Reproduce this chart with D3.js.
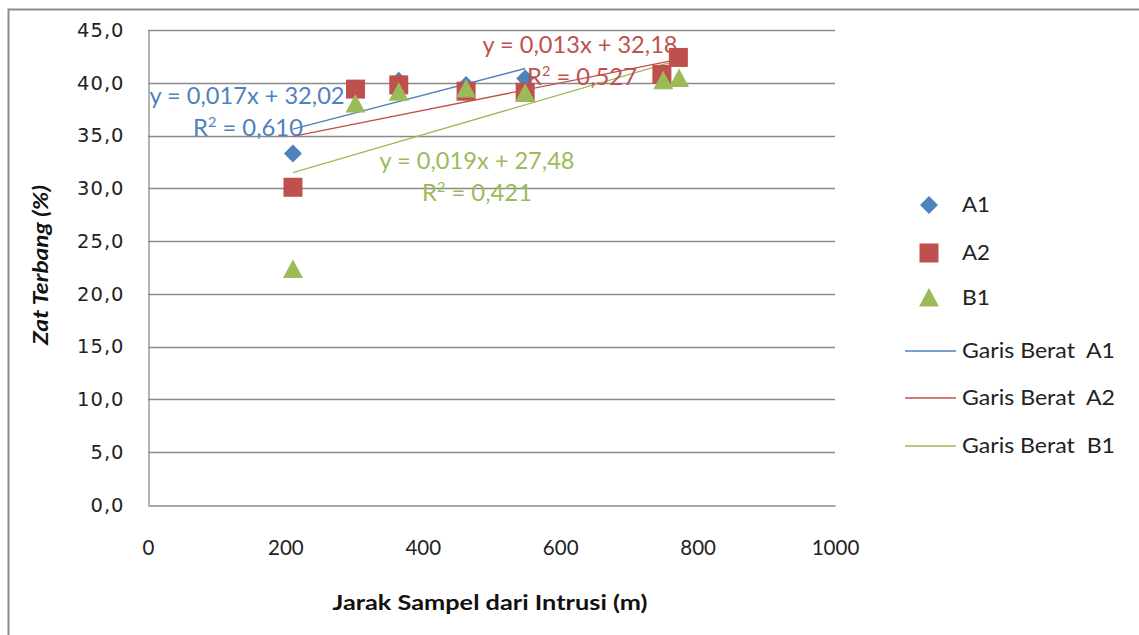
<!DOCTYPE html>
<html>
<head>
<meta charset="utf-8">
<script src="https://cdn.jsdelivr.net/npm/d3@7/dist/d3.min.js"></script>
<style>
  html, body { margin: 0; padding: 0; background: #fff; }
  svg { display: block; }
</style>
</head>
<body>
<svg id="chart" width="1139" height="635"></svg>
<script>
// ---------------- data ----------------
const xTicks = [0, 200, 400, 600, 800, 1000];
const yTicks = [0, 5, 10, 15, 20, 25, 30, 35, 40, 45];

const seriesNames = ["A1", "A2", "B1"];
const trendNames = ["Garis Berat  A1", "Garis Berat  A2", "Garis Berat  B1"];

const a1X = [211, 365, 463, 549];
const a1Y = [33.3, 40.2, 39.8, 40.4];
const a2X = [211, 302, 365, 463, 549, 748, 772];
const a2Y = [30.1, 39.4, 39.8, 39.2, 39.1, 40.8, 42.4];
const b1X = [211, 302, 365, 463, 549, 750, 773];
const b1Y = [22.3, 38.0, 39.1, 39.4, 39.0, 40.2, 40.4];

const trendSlopes = [0.017, 0.013, 0.019];
const trendIntercepts = [32.02, 32.18, 27.48];
const trendEquations = ["y = 0,017x + 32,02", "y = 0,013x + 32,18", "y = 0,019x + 27,48"];
const trendR2 = ["0,610", "0,527", "0,421"];

const xTitle = "Jarak Sampel dari Intrusi (m)";
const yTitle = "Zat Terbang (%)";

// ---------------- styling / layout ----------------
const colors = ["#4F81BD", "#C0504D", "#9BBB59"];
const textColors = ["#4F81BD", "#C0504D", "#9BBB59"];
const shapes = ["diamond", "square", "triangle"];
const plot = { left: 148, right: 835, top: 30, bottom: 505 };
// equation label anchor positions (pixel centres)
const eqPos = [[247, 96], [580, 45], [477, 161]];
const r2Pos = [[248, 128], [582, 77], [477, 193]];
const eqLen = 195, r2Len = 110;

const svg = d3.select("#chart");
const x = d3.scaleLinear().domain([0, 1000]).range([plot.left, plot.right]);
const y = d3.scaleLinear().domain([0, 45]).range([plot.bottom, plot.top]);
const fmtY = v => d3.format(".1f")(v).replace(".", ",");

// outer frame (only top and left visible)
svg.append("rect").attr("x", 8.5).attr("y", 9.5).attr("width", 1200).attr("height", 700)
  .attr("fill", "none").attr("stroke", "#8c8c8c").attr("stroke-width", 2);

// gridlines
svg.append("g").selectAll("line").data(yTicks.filter(d => d > 0)).join("line")
  .attr("x1", plot.left).attr("x2", plot.right)
  .attr("y1", d => Math.round(y(d)) + 0.5).attr("y2", d => Math.round(y(d)) + 0.5)
  .attr("stroke", "#8a8a8a").attr("stroke-width", 1.3);

// axes
const yAxis = d3.axisLeft(y).tickValues(yTicks).tickFormat(fmtY).tickSize(0).tickPadding(24);
const gy = svg.append("g").attr("transform", `translate(${plot.left + 0.5},0)`).call(yAxis);
gy.select(".domain").attr("stroke", "#8a8a8a").attr("stroke-width", 1.3);
gy.selectAll("text").attr("font-family", "DejaVu Sans").attr("font-size", 19.5)
  .attr("letter-spacing", 1).attr("fill", "#222");

const xAxis = d3.axisBottom(x).tickValues(xTicks).tickFormat(d3.format("d")).tickSize(0).tickPadding(35);
const gx = svg.append("g").attr("transform", `translate(0,${plot.bottom + 0.5})`).call(xAxis);
gx.select(".domain").attr("stroke", "#8a8a8a").attr("stroke-width", 1.3);
gx.selectAll("text").attr("font-family", "Lato").attr("font-size", 20.5).attr("fill", "#222");

// axis titles
svg.append("text").attr("x", 490).attr("y", 610).attr("text-anchor", "middle")
  .attr("font-family", "Lato").attr("font-weight", "bold").attr("font-size", 21)
  .attr("textLength", 315).attr("lengthAdjust", "spacingAndGlyphs")
  .attr("fill", "#111").text(xTitle);
svg.append("text").attr("transform", "translate(48,265) rotate(-90)").attr("text-anchor", "middle")
  .attr("font-family", "Lato").attr("font-weight", "bold").attr("font-style", "italic")
  .attr("font-size", 21).attr("textLength", 160).attr("lengthAdjust", "spacingAndGlyphs")
  .attr("fill", "#111").text(yTitle);

// symbols
function symbolPath(shape) {
  if (shape === "diamond") return "M0,-9L9,0L0,9L-9,0Z";
  if (shape === "square") return "M-9.5,-9.5H9.5V9.5H-9.5Z";
  return "M0,-10L10,8.5L-10,8.5Z";
}

const seriesX = [a1X, a2X, b1X];
const seriesY = [a1Y, a2Y, b1Y];

// trend lines
seriesX.forEach((xs, i) => {
  const x0 = d3.min(xs), x1 = d3.max(xs);
  svg.append("line")
    .attr("x1", x(x0)).attr("y1", y(trendSlopes[i] * x0 + trendIntercepts[i]))
    .attr("x2", x(x1)).attr("y2", y(trendSlopes[i] * x1 + trendIntercepts[i]))
    .attr("stroke", colors[i]).attr("stroke-width", 1.3);
});

// points (drawn A1, A2, B1 order)
seriesX.forEach((xs, i) => {
  svg.append("g").selectAll("path").data(xs.map((v, k) => [v, seriesY[i][k]])).join("path")
    .attr("transform", d => `translate(${x(d[0])},${y(d[1])})`)
    .attr("d", symbolPath(shapes[i])).attr("fill", colors[i]);
});

// equation labels
trendEquations.forEach((t, i) => {
  svg.append("text").attr("x", eqPos[i][0]).attr("y", eqPos[i][1]).attr("dy", "0.35em")
    .attr("text-anchor", "middle").attr("font-family", "Lato").attr("font-size", 23)
    .attr("textLength", eqLen).attr("lengthAdjust", "spacingAndGlyphs")
    .attr("fill", textColors[i]).text(t);
  const r = svg.append("text").attr("x", r2Pos[i][0] - r2Len / 2).attr("y", r2Pos[i][1] + 8)
    .attr("font-family", "Lato").attr("font-size", 23)
    .attr("fill", textColors[i]);
  r.append("tspan").text("R");
  r.append("tspan").attr("font-size", 14).attr("dy", -9).text("2");
  r.append("tspan").attr("dy", 9).text(" = " + trendR2[i]);
  r.attr("textLength", r2Len).attr("lengthAdjust", "spacingAndGlyphs");
});

// legend
const legMarkY = [205, 253, 298];
const legLineY = [351, 398, 446];
seriesNames.forEach((n, i) => {
  svg.append("path").attr("transform", `translate(929,${legMarkY[i]})`)
    .attr("d", symbolPath(shapes[i])).attr("fill", colors[i]);
  svg.append("text").attr("x", 962).attr("y", legMarkY[i]).attr("dy", "0.35em")
    .attr("font-family", "Lato").attr("font-size", 21).attr("textLength", 28)
    .attr("lengthAdjust", "spacingAndGlyphs").attr("fill", "#222").text(n);
});
trendNames.forEach((n, i) => {
  svg.append("line").attr("x1", 905).attr("x2", 956).attr("y1", legLineY[i]).attr("y2", legLineY[i])
    .attr("stroke", colors[i]).attr("stroke-width", 1.3);
  svg.append("text").attr("x", 962).attr("y", legLineY[i]).attr("dy", "0.35em")
    .attr("xml:space", "preserve").style("white-space", "pre")
    .attr("font-family", "Lato").attr("font-size", 21).attr("textLength", 153)
    .attr("lengthAdjust", "spacingAndGlyphs").attr("fill", "#222").text(n);
});
</script>
</body>
</html>
